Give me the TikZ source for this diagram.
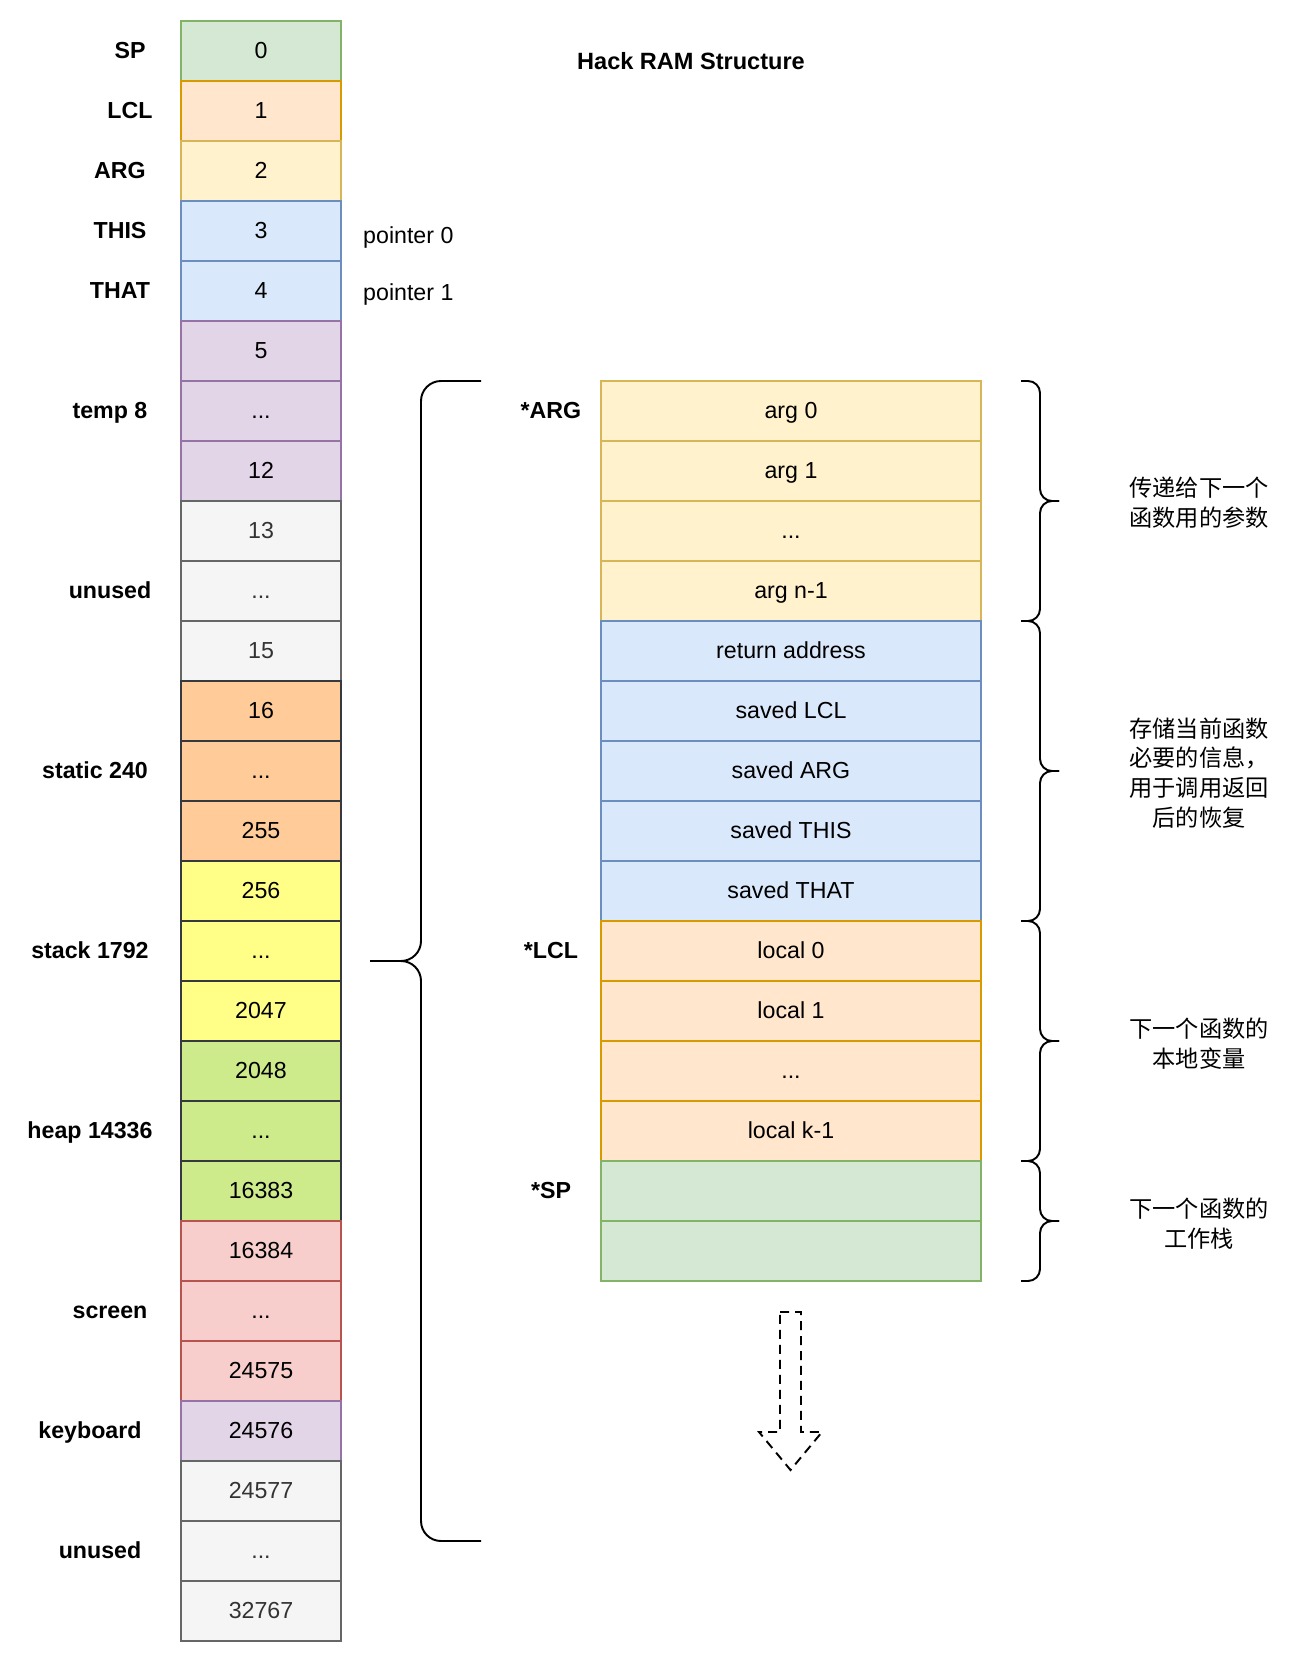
\documentclass[tikz,border=0pt]{standalone}
\usepackage{fontspec}
\setmainfont{Liberation Sans}
\newfontfamily\cjk{Noto Sans CJK SC}
\usetikzlibrary{calc}
\definecolor{spfill}{HTML}{D5E8D4}\definecolor{spline}{HTML}{82B366}
\definecolor{lclfill}{HTML}{FFE6CC}\definecolor{lclline}{HTML}{D79B00}
\definecolor{argfill}{HTML}{FFF2CC}\definecolor{argline}{HTML}{D6B656}
\definecolor{ptrfill}{HTML}{DAE8FC}\definecolor{ptrline}{HTML}{6C8EBF}
\definecolor{tmpfill}{HTML}{E1D5E7}\definecolor{tmpline}{HTML}{9673A6}
\definecolor{freefill}{HTML}{F5F5F5}\definecolor{freeline}{HTML}{666666}
\definecolor{freetext}{HTML}{333333}
\definecolor{statfill}{HTML}{FFCC99}\definecolor{darkline}{HTML}{36393D}
\definecolor{stkfill}{HTML}{FFFF88}
\definecolor{heapfill}{HTML}{CDEB8B}
\definecolor{scrfill}{HTML}{F8CECC}\definecolor{scrline}{HTML}{B85450}

\begin{document}
\begin{tikzpicture}[x=0.02cm, y=-0.02cm,
  font=\fontsize{13.2}{16}\selectfont,
  cell/.style={draw, line width=1.1pt, minimum width=3.2cm, minimum height=1.2cm, inner sep=0pt,
    text height=9.5pt, text depth=1pt},
  slot/.style={cell, minimum width=7.6cm},
  spc/.style={fill=spfill, draw=spline},
  lclc/.style={fill=lclfill, draw=lclline},
  argc/.style={fill=argfill, draw=argline},
  ptrc/.style={fill=ptrfill, draw=ptrline},
  tmpc/.style={fill=tmpfill, draw=tmpline},
  freec/.style={fill=freefill, draw=freeline, text=freetext},
  statc/.style={fill=statfill, draw=darkline},
  stkc/.style={fill=stkfill, draw=darkline},
  heapc/.style={fill=heapfill, draw=darkline},
  scrc/.style={fill=scrfill, draw=scrline},
  lbl/.style={font=\fontsize{13.2}{16}\selectfont\bfseries, inner sep=0pt, text height=9.5pt, text depth=1pt},
  note/.style={font=\cjk\fontsize{13.2}{17}\selectfont, align=center},
  brace/.style={line width=1.1pt, rounded corners=0.24cm},
  bigbrace/.style={line width=1.1pt, rounded corners=0.4cm}]
      \fill[white] (0,0) rectangle (1302,1662);
      % RAM cells
      \node (r0) at (261,51) [cell, spc] {0};
      \node (r1) at (261,111) [cell, lclc] {1};
      \node (r2) at (261,171) [cell, argc] {2};
      \node (r3) at (261,231) [cell, ptrc] {3};
      \node (r4) at (261,291) [cell, ptrc] {4};
      \node (r5) at (261,351) [cell, tmpc] {5};
      \node (r6) at (261,411) [cell, tmpc] {...};
      \node (r7) at (261,471) [cell, tmpc] {12};
      \node (r8) at (261,531) [cell, freec] {13};
      \node (r9) at (261,591) [cell, freec] {...};
      \node (r10) at (261,651) [cell, freec] {15};
      \node (r11) at (261,711) [cell, statc] {16};
      \node (r12) at (261,771) [cell, statc] {...};
      \node (r13) at (261,831) [cell, statc] {255};
      \node (r14) at (261,891) [cell, stkc] {256};
      \node (r15) at (261,951) [cell, stkc] {...};
      \node (r16) at (261,1011) [cell, stkc] {2047};
      \node (r17) at (261,1071) [cell, heapc] {2048};
      \node (r18) at (261,1131) [cell, heapc] {...};
      \node (r19) at (261,1191) [cell, heapc] {16383};
      \node (r20) at (261,1251) [cell, scrc] {16384};
      \node (r21) at (261,1311) [cell, scrc] {...};
      \node (r22) at (261,1371) [cell, scrc] {24575};
      \node (r23) at (261,1431) [cell, tmpc] {24576};
      \node (r24) at (261,1491) [cell, freec] {24577};
      \node (r25) at (261,1551) [cell, freec] {...};
      \node (r26) at (261,1611) [cell, freec] {32767};
      % segment names
      \node (lsp) at (130,51) [lbl] {SP};
      \node (llcl) at (130,111) [lbl] {LCL};
      \node (larg) at (120,171) [lbl] {ARG};
      \node (lthis) at (120,231) [lbl] {THIS};
      \node (lthat) at (120,291) [lbl] {THAT};
      \node (ltemp) at (110,411) [lbl] {temp 8};
      \node (lfree) at (110,591) [lbl] {unused};
      \node (lstat) at (95,771) [lbl] {static 240};
      \node (lstk) at (90,951) [lbl] {stack 1792};
      \node (lheap) at (90,1131) [lbl] {heap 14336};
      \node (lscr) at (110,1311) [lbl] {screen};
      \node (lkbd) at (90,1431) [lbl] {keyboard};
      \node (lfree2) at (100,1551) [lbl] {unused};
      \node (p0) at (357,238) [anchor=west] {pointer 0};
      \node (p1) at (357,295) [anchor=west] {pointer 1};
      \node (title) at (691,62) [lbl, font=\fontsize{13.4}{16}\selectfont\bfseries] {Hack RAM Structure};
      % stack frame
      \node (a0) at (791,411) [slot, argc] {arg 0};
      \node (a1) at (791,471) [slot, argc] {arg 1};
      \node (a2) at (791,531) [slot, argc] {...};
      \node (a3) at (791,591) [slot, argc] {arg n-1};
      \node (f0) at (791,651) [slot, ptrc] {return address};
      \node (f1) at (791,711) [slot, ptrc] {saved LCL};
      \node (f2) at (791,771) [slot, ptrc] {saved ARG};
      \node (f3) at (791,831) [slot, ptrc] {saved THIS};
      \node (f4) at (791,891) [slot, ptrc] {saved THAT};
      \node (v0) at (791,951) [slot, lclc] {local 0};
      \node (v1) at (791,1011) [slot, lclc] {local 1};
      \node (v2) at (791,1071) [slot, lclc] {...};
      \node (v3) at (791,1131) [slot, lclc] {local k-1};
      \node (w0) at (791,1191) [slot, spc] {};
      \node (w1) at (791,1251) [slot, spc] {};
      \node (parg) at (551,411) [lbl] {*ARG};
      \node (plcl) at (551,951) [lbl] {*LCL};
      \node (psp) at (551,1191) [lbl] {*SP};
      % braces
      \draw[bigbrace] (481,381) -- (421,381) -- (421,961) -- (370,961);
      \draw[bigbrace] (370,961) -- (421,961) -- (421,1541) -- (481,1541);
      \draw[brace] (1021,381) -- (1040,381) -- (1040,501) -- (1059,501);
      \draw[brace] (1059,501) -- (1040,501) -- (1040,621) -- (1021,621);
      \draw[brace] (1021,621) -- (1040,621) -- (1040,771) -- (1059,771);
      \draw[brace] (1059,771) -- (1040,771) -- (1040,921) -- (1021,921);
      \draw[brace] (1021,921) -- (1040,921) -- (1040,1041) -- (1059,1041);
      \draw[brace] (1059,1041) -- (1040,1041) -- (1040,1161) -- (1021,1161);
      \draw[brace] (1021,1161) -- (1040,1161) -- (1040,1221) -- (1059,1221);
      \draw[brace] (1059,1221) -- (1040,1221) -- (1040,1281) -- (1021,1281);
      \node (n1) at (1199,503) [note] {传递给下一个\\函数用的参数};
      \node (n2) at (1199,773) [note] {存储当前函数\\必要的信息，\\用于调用返回\\后的恢复};
      \node (n3) at (1199,1044) [note] {下一个函数的\\本地变量};
      \node (n4) at (1199,1224) [note] {下一个函数的\\工作栈};
      % growth direction
      \draw[line width=1.1pt, dash pattern=on 0.18cm off 0.12cm]
      (780,1312) -- (801,1312) -- (801,1432) -- (822,1432) -- (790.5,1470)
      -- (759,1432) -- (780,1432) -- cycle;
    \end{tikzpicture}
\end{document}
